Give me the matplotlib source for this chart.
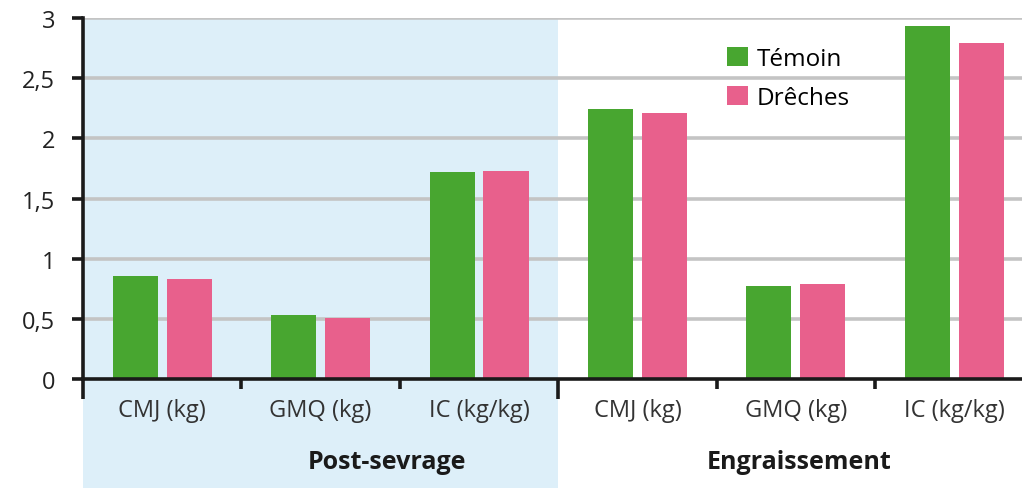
import matplotlib
matplotlib.use('Agg')
import matplotlib.pyplot as plt
import numpy as np

# data
categories = ['CMJ (kg)', 'GMQ (kg)', 'IC (kg/kg)', 'CMJ (kg)', 'GMQ (kg)', 'IC (kg/kg)']
groups = ['Post-sevrage', 'Engraissement']
temoin = [0.86, 0.53, 1.72, 2.24, 0.77, 2.93]
dreches = [0.83, 0.51, 1.73, 2.21, 0.79, 2.79]

green = '#48a630'
pink = '#e8608c'
blue_bg = '#ddeff9'

plt.rcParams['font.family'] = ['Open Sans', 'DejaVu Sans']

fig = plt.figure(figsize=(10.22, 4.89), dpi=100)
W, H = 1022, 489
ax = fig.add_axes([83 / W, 109 / H, 939 / W, 361 / H])

x = np.arange(len(categories))
width = 0.285
ax.bar(x - 0.17, temoin, width, color=green, label='Témoin', zorder=3)
ax.bar(x + 0.17, dreches, width, color=pink, label='Drêches', zorder=3)

ax.set_xlim(-0.5, 5.428)
ax.set_ylim(0, 3)

# shaded post-sevrage region, extending under the labels
ax.axvspan(-0.5, 2.5, ymin=-0.31, ymax=1, color=blue_bg, clip_on=False, zorder=0, lw=0)

# gridlines
ax.set_yticks(np.arange(0, 3.01, 0.5))
ax.set_yticklabels(['0', '0,5', '1', '1,5', '2', '2,5', '3'], fontsize=17, color='#222222')
for yv in np.arange(0.5, 3.01, 0.5):
    ax.axhline(yv, color='#c4c4c4', lw=2.6, zorder=1)

for s in ['top', 'right']:
    ax.spines[s].set_visible(False)
for s in ['left', 'bottom']:
    ax.spines[s].set_linewidth(2.6)
    ax.spines[s].set_color('#1a1a1a')
    ax.spines[s].set_zorder(4)
ax.tick_params(axis='y', direction='out', length=8, width=2.6, color='#1a1a1a', pad=12)

# boundary ticks + category labels
ax.set_xticks([0.5, 1.5, 3.5, 4.5])
ax.set_xticklabels([])
ax.tick_params(axis='x', which='major', direction='out', length=7, width=2.6, color='#1a1a1a')
ax.set_xticks(x, minor=True)
ax.set_xticklabels(categories, minor=True, fontsize=17, color='#333333')
ax.tick_params(axis='x', which='minor', length=0, pad=14)

# longer separators at group edges
trans = ax.get_xaxis_transform()
for xs in [-0.5, 2.5]:
    ax.plot([xs, xs], [0, -20 / 361], transform=trans, color='#1a1a1a', lw=2.6,
            clip_on=False, zorder=5, solid_capstyle='butt')

# group labels
ax.text(1.42, -83 / 361, groups[0], transform=trans, ha='center', va='center',
        fontsize=18, fontweight='bold', color='#1a1a1a')
ax.text(4.02, -83 / 361, groups[1], transform=trans, ha='center', va='center',
        fontsize=18, fontweight='bold', color='#1a1a1a')

ax.legend(loc='upper left', bbox_to_anchor=(0.686, 0.92), frameon=False, fontsize=17.5,
          handlelength=0.85, handleheight=0.85, handletextpad=0.35, labelspacing=0.62,
          borderpad=0, borderaxespad=0)

fig.savefig('out.png', dpi=100)
